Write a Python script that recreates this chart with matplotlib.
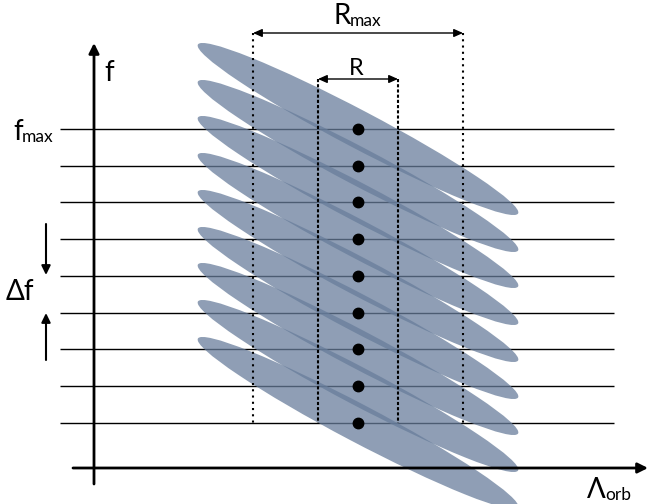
import matplotlib
matplotlib.use("Agg")
import matplotlib.pyplot as plt
from matplotlib.patches import Ellipse

# ---- diagram data (diagram units = reference pixels, y grows downward) ----
freq_levels = [129, 166, 202, 239, 276, 313, 349, 386, 423]   # horizontal frequency lines
dot_lambda = [358] * 9                                         # sampled points (centre column)
dot_freq = [129, 166, 202, 239, 276, 313, 349, 386, 423]
ellipse_lambda = [358] * 9                                     # ellipse centres
ellipse_freq = [129, 166, 202, 239, 276, 313, 349, 386, 423]
ellipse_major = 362
ellipse_minor = 37.5
ellipse_angle = 27.8
rmax_edges = [253, 463]
r_edges = [318, 398]
line_extent = [60, 614]

FONT = ['Lato', 'DejaVu Sans']

fig = plt.figure(figsize=(6.49, 5.04), dpi=100)
ax = fig.add_axes([0, 0, 1, 1])
ax.set_xlim(0, 649)
ax.set_ylim(504, 0)
ax.axis('off')

# horizontal frequency lines (under the ellipses)
for y in freq_levels:
    ax.plot(line_extent, [y, y], color='black', lw=1.0, zorder=1, solid_capstyle='butt')

# ellipses
for cx, cy in zip(ellipse_lambda, ellipse_freq):
    e = Ellipse((cx, cy), ellipse_major, ellipse_minor, angle=ellipse_angle,
                facecolor=(104/255, 125/255, 155/255), edgecolor='none', alpha=0.74, zorder=2)
    ax.add_patch(e)

# dots
ax.plot(dot_lambda, dot_freq, 'o', color='black', ms=7.5, zorder=5)

# dotted verticals
for x in rmax_edges:
    ax.plot([x, x], [33, freq_levels[-1]], color='black', lw=1.5,
            linestyle=(0, (1, 2)), zorder=4)
for x in r_edges:
    ax.plot([x, x], [79, freq_levels[-1]], color='black', lw=1.5,
            linestyle=(0, (1.5, 1)), zorder=4)

def arrow(p0, p1, style, lw, hl=0.5, hw=0.25, ms=12):
    ax.annotate('', xy=p1, xytext=p0,
                arrowprops=dict(arrowstyle=f'{style},head_length={hl},head_width={hw}',
                                lw=lw, color='black', shrinkA=0, shrinkB=0,
                                mutation_scale=ms),
                zorder=6)

# axes
arrow((94, 484), (94, 43), '-|>', 2.0)
arrow((73, 468), (648, 468), '-|>', 2.0)

# R / Rmax arrows
arrow((rmax_edges[0], 33), (rmax_edges[1], 33), '<|-|>', 1.0, 0.45, 0.2)
arrow((r_edges[0], 79), (r_edges[1], 79), '<|-|>', 1.0, 0.45, 0.2)

# delta f arrows
arrow((46, 224), (46, 275), '-|>', 1.5, 0.45, 0.22)
arrow((46, 360), (46, 313), '-|>', 1.5, 0.45, 0.22)

def label(x, y, main, sub=None, size=20, subsize=12.5):
    t = ax.text(x, y, main, fontsize=size, family=FONT, ha='left', va='baseline', zorder=7)
    if sub:
        ax.annotate(sub, xy=(1, 0), xycoords=t, xytext=(-0.5, 0), textcoords='offset points',
                    fontsize=subsize, family=FONT, ha='left', va='bottom', zorder=7)
    return t

label(104, 81, 'f')
label(13, 140, 'f', 'max')
label(333, 24, 'R', 'max')
label(349, 75, 'R', size=17)
label(6, 300, 'Δf')
label(587, 498, 'Λ', 'orb')

fig.savefig('out.png', dpi=100)
